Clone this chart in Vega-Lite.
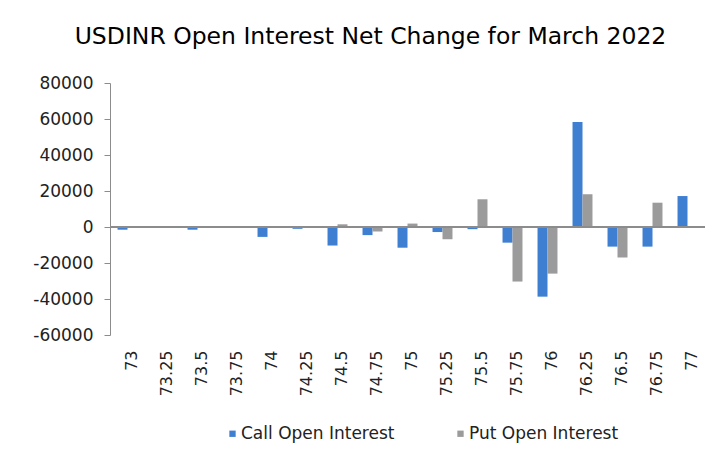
{
  "$schema": "https://vega.github.io/schema/vega-lite/v6.json",
  "autosize": {"type": "none"},
  "padding": {"left": 110, "top": 83, "right": 21, "bottom": 116},
  "width": 595,
  "height": 252,
  "background": "white",
  "title": {
    "text": "USDINR Open Interest Net Change for March 2022",
    "font": "DejaVu Sans",
    "fontSize": 23.5,
    "fontWeight": "normal",
    "color": "#000000",
    "anchor": "middle",
    "baseline": "alphabetic",
    "offset": 7,
    "dx": -37
  },
  "config": {
    "view": {"stroke": null},
    "font": "DejaVu Sans"
  },
  "data": {
    "values": [
      {"strike": "73", "series": "Call Open Interest", "value": -1500},
      {"strike": "73", "series": "Put Open Interest", "value": -300},
      {"strike": "73.25", "series": "Call Open Interest", "value": 0},
      {"strike": "73.25", "series": "Put Open Interest", "value": 0},
      {"strike": "73.5", "series": "Call Open Interest", "value": -1500},
      {"strike": "73.5", "series": "Put Open Interest", "value": -300},
      {"strike": "73.75", "series": "Call Open Interest", "value": 0},
      {"strike": "73.75", "series": "Put Open Interest", "value": 0},
      {"strike": "74", "series": "Call Open Interest", "value": -5500},
      {"strike": "74", "series": "Put Open Interest", "value": -300},
      {"strike": "74.25", "series": "Call Open Interest", "value": -1000},
      {"strike": "74.25", "series": "Put Open Interest", "value": -500},
      {"strike": "74.5", "series": "Call Open Interest", "value": -10300},
      {"strike": "74.5", "series": "Put Open Interest", "value": 1500},
      {"strike": "74.75", "series": "Call Open Interest", "value": -4500},
      {"strike": "74.75", "series": "Put Open Interest", "value": -2500},
      {"strike": "75", "series": "Call Open Interest", "value": -11500},
      {"strike": "75", "series": "Put Open Interest", "value": 1900},
      {"strike": "75.25", "series": "Call Open Interest", "value": -2800},
      {"strike": "75.25", "series": "Put Open Interest", "value": -6800},
      {"strike": "75.5", "series": "Call Open Interest", "value": -1200},
      {"strike": "75.5", "series": "Put Open Interest", "value": 15400},
      {"strike": "75.75", "series": "Call Open Interest", "value": -8700},
      {"strike": "75.75", "series": "Put Open Interest", "value": -30300},
      {"strike": "76", "series": "Call Open Interest", "value": -38700},
      {"strike": "76", "series": "Put Open Interest", "value": -25900},
      {"strike": "76.25", "series": "Call Open Interest", "value": 58300},
      {"strike": "76.25", "series": "Put Open Interest", "value": 18200},
      {"strike": "76.5", "series": "Call Open Interest", "value": -10900},
      {"strike": "76.5", "series": "Put Open Interest", "value": -17000},
      {"strike": "76.75", "series": "Call Open Interest", "value": -10900},
      {"strike": "76.75", "series": "Put Open Interest", "value": 13500},
      {"strike": "77", "series": "Call Open Interest", "value": 17200},
      {"strike": "77", "series": "Put Open Interest", "value": -300}
    ]
  },
  "layer": [
    {
      "mark": {"type": "bar", "stroke": null},
      "encoding": {
        "x": {
          "field": "strike",
          "type": "nominal",
          "sort": null,
          "scale": {"paddingInner": 0.43, "paddingOuter": 0.215},
          "axis": {
            "title": null,
            "domain": false,
            "ticks": false,
            "labelAngle": -90,
            "labelPadding": 15,
            "labelOffset": 4,
            "labelOverlap": false,
            "labelFont": "DejaVu Sans",
            "labelFontSize": 16,
            "labelColor": "#222222"
          }
        },
        "xOffset": {
          "field": "series",
          "type": "nominal",
          "sort": ["Call Open Interest", "Put Open Interest"],
          "scale": {"paddingInner": 0, "paddingOuter": 0}
        },
        "y": {
          "field": "value",
          "type": "quantitative",
          "scale": {"domain": [-60000, 80000], "nice": false, "zero": false},
          "axis": {
            "title": null,
            "values": [-60000, -40000, -20000, 0, 20000, 40000, 60000, 80000],
            "tickCount": 8,
            "labelExpr": "'' + datum.value",
            "labelOverlap": false,
            "grid": false,
            "domain": true,
            "domainColor": "#8c8c8c",
            "tickColor": "#8c8c8c",
            "tickSize": 6,
            "labelPadding": 11,
            "labelFont": "DejaVu Sans",
            "labelFontSize": 17,
            "labelColor": "#222222"
          }
        },
        "color": {
          "field": "series",
          "type": "nominal",
          "sort": ["Call Open Interest", "Put Open Interest"],
          "scale": {
            "domain": ["Call Open Interest", "Put Open Interest"],
            "range": ["#3F7FD1", "#9B9B9B"]
          },
          "legend": {
            "title": null,
            "orient": "none",
            "direction": "horizontal",
            "legendX": 114,
            "legendY": 342,
            "padding": 0,
            "symbolType": "square",
            "symbolSize": 40,
            "symbolStrokeWidth": 0,
            "labelFont": "DejaVu Sans",
            "labelFontSize": 17,
            "labelColor": "#222222",
            "labelOffset": 0,
            "columnPadding": 57
          }
        }
      }
    },
    {
      "mark": {"type": "rule", "color": "#8c8c8c", "strokeWidth": 1.5},
      "encoding": {"y": {"datum": 0}}
    }
  ]
}
